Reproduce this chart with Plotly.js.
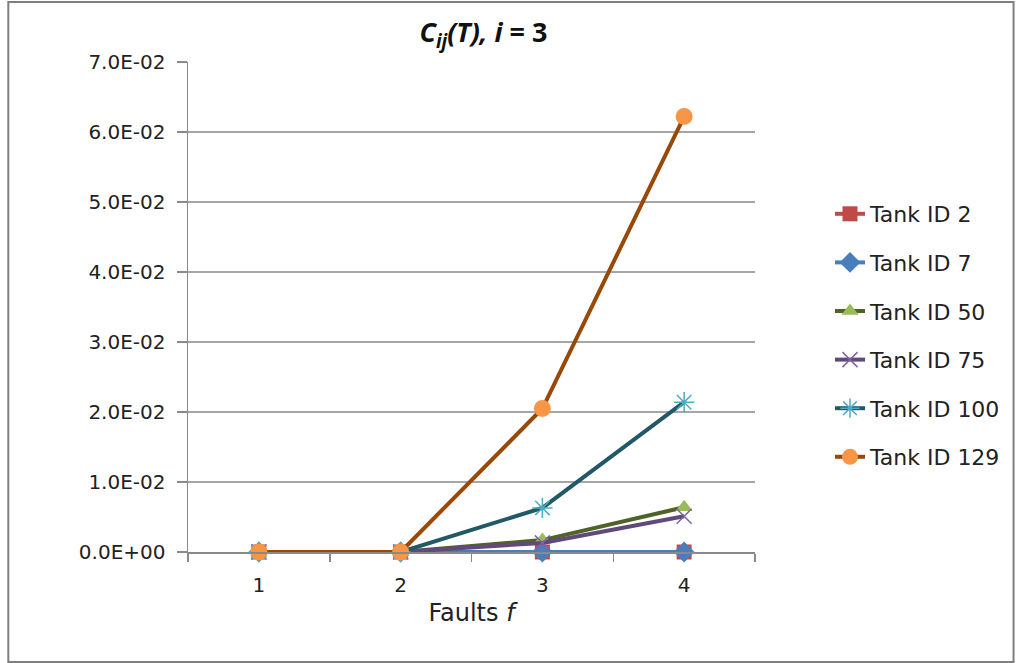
<!DOCTYPE html>
<html>
<head>
<meta charset="utf-8">
<script src="https://cdn.plot.ly/plotly-3.0.1.min.js"></script>
<style>
html,body{margin:0;padding:0;background:#fff;}
#chart{width:1017px;height:663px;}
</style>
</head>
<body>
<div id="chart"></div>
<script>
const faults = ['1', '2', '3', '4'];
const tank2 = [0, 0, 0, 0];
const tank7 = [0, 0, 0, 0];
const tank50 = [0, 0, 0.0017, 0.0064];
const tank75 = [0, 0, 0.0013, 0.0051];
const tank100 = [0, 0, 0.0063, 0.0214];
const tank129 = [0, 0, 0.0205, 0.0622];
const seriesNames = ['Tank ID 2', 'Tank ID 7', 'Tank ID 50', 'Tank ID 75', 'Tank ID 100', 'Tank ID 129'];
const yTickVals = [0, 0.01, 0.02, 0.03, 0.04, 0.05, 0.06, 0.07];
const yTickText = ['0.0E+00', '1.0E-02', '2.0E-02', '3.0E-02', '4.0E-02', '5.0E-02', '6.0E-02', '7.0E-02'];

const styles = [
  {line: '#BE4B48', marker: '#BE4B48', symbol: 'square', size: 15, lw: 0},
  {line: '#4A7EBB', marker: '#4A7EBB', symbol: 'diamond', size: 16, lw: 0},
  {line: '#4F6228', marker: '#9BBB59', symbol: 'triangle-up', size: 15, lw: 0},
  {line: '#604A7B', marker: '#8064A2', symbol: 'x-thin-open', size: 15, lw: 1.5},
  {line: '#215967', marker: '#4BACC6', symbol: 'asterisk-open', size: 17, lw: 1.5},
  {line: '#984807', marker: '#F79646', symbol: 'circle', size: 17, lw: 0}
];
const values = [tank2, tank7, tank50, tank75, tank100, tank129];

const traces = values.map((v, i) => {
  const s = styles[i];
  return {
    type: 'scatter', mode: 'lines+markers',
    x: faults, y: v, name: seriesNames[i],
    legendgroup: 'g' + i,
    cliponaxis: false,
    line: {color: s.line, width: 4},
    marker: {symbol: s.symbol, size: s.size, color: s.marker,
             line: {color: s.marker, width: s.lw}}
  };
});

const L = 188, R = 261, T = 62, B = 111, W = 1017, H = 663;
const pw = W - L - R, ph = H - T - B;

const layout = {
  width: W, height: H,
  margin: {l: L, r: R, t: T, b: B, pad: 0},
  paper_bgcolor: '#ffffff', plot_bgcolor: '#ffffff',
  font: {family: 'DejaVu Sans', size: 14, color: '#222'},
  title: {
    text: '<b><i>C<sub>ij</sub>(T), i</i> = 3</b>',
    font: {family: 'Open Sans', size: 27, color: '#111'},
    xref: 'paper', x: (484 - L) / pw, xanchor: 'center',
    yref: 'container', y: 1 - 33 / H, yanchor: 'middle'
  },
  xaxis: {
    type: 'category',
    range: [-0.5, 3.5],
    showgrid: false, zeroline: false,
    showline: true, linecolor: '#8a8a8a', linewidth: 1.5,
    ticks: 'outside', ticklen: 8, tickcolor: '#8a8a8a', tickwidth: 1.5,
    tickson: 'boundaries',
    ticklabelstandoff: 14,
    tickfont: {family: 'DejaVu Sans', size: 20, color: '#222'},
    title: {text: 'Faults <i>f</i>', font: {family: 'DejaVu Sans', size: 24, color: '#222'}, standoff: 8}
  },
  yaxis: {
    range: [0, 0.07],
    tickmode: 'array',
    tickvals: yTickVals, ticktext: yTickText,
    showgrid: true, gridcolor: '#a6a6a6', gridwidth: 1.5,
    zeroline: false,
    showline: true, linecolor: '#8a8a8a', linewidth: 1.5,
    ticks: 'outside', ticklen: 10, tickcolor: '#8a8a8a', tickwidth: 1.5,
    ticklabelstandoff: 7,
    tickfont: {family: 'DejaVu Sans', size: 20, color: '#222'}
  },
  legend: {
    x: (830 - L) / pw, xanchor: 'left',
    y: (552 - 193) / ph, yanchor: 'top',
    tracegroupgap: 17,
    font: {family: 'DejaVu Sans', size: 22, color: '#222'},
    bgcolor: 'rgba(0,0,0,0)'
  },
  showlegend: true,
  shapes: [{
    type: 'rect', xref: 'paper', yref: 'paper',
    x0: (8 - L) / pw, x1: (1015 - L) / pw,
    y0: (H - 662 - B) / ph, y1: (H - 2 - B) / ph,
    line: {color: '#7f7f7f', width: 2}, fillcolor: 'rgba(0,0,0,0)', layer: 'below'
  }]
};

Plotly.newPlot('chart', traces, layout, {displayModeBar: false, staticPlot: true});
</script>
</body>
</html>
